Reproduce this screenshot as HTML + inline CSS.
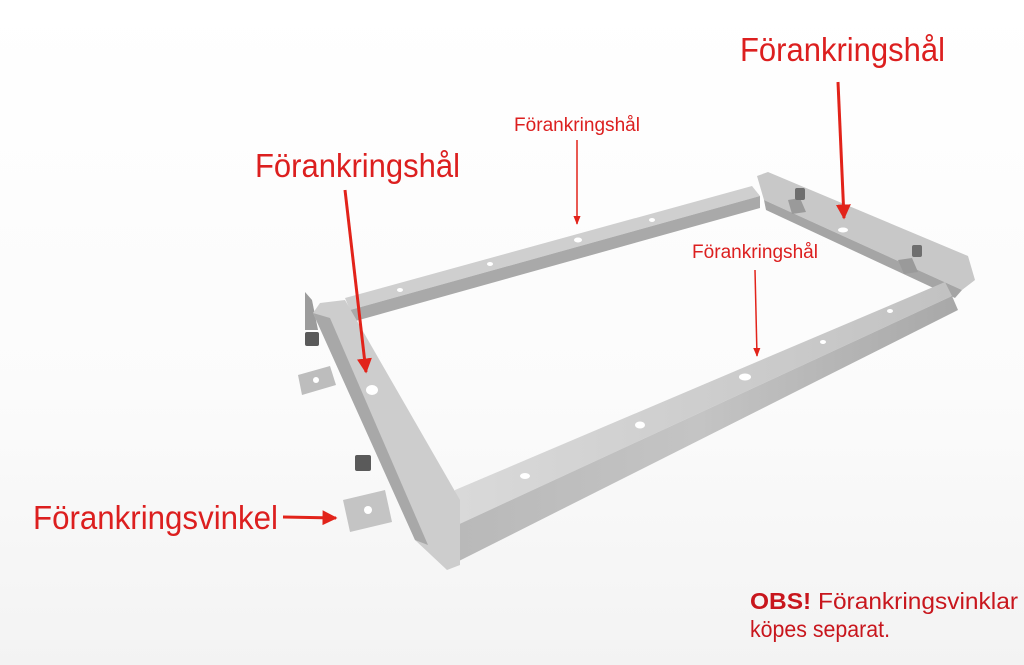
<!DOCTYPE html>
<html><head><meta charset="utf-8"><style>
html,body{margin:0;padding:0;background:#fff;}
svg{display:block;}
text{font-family:"Liberation Sans",Arial,sans-serif;}
</style></head><body>
<svg width="1024" height="665" viewBox="0 0 1024 665" xmlns="http://www.w3.org/2000/svg">
<defs>
<linearGradient id="bg" x1="0" y1="0" x2="0" y2="1">
<stop offset="0" stop-color="#ffffff"/><stop offset="0.6" stop-color="#fbfbfb"/><stop offset="1" stop-color="#f3f3f3"/>
</linearGradient>
<linearGradient id="fr" x1="0" y1="0" x2="1" y2="0">
<stop offset="0" stop-color="#b8b8b8"/><stop offset="0.5" stop-color="#c4c4c4"/><stop offset="1" stop-color="#a8a8a8"/>
</linearGradient>
<linearGradient id="tp" x1="0" y1="0" x2="1" y2="0">
<stop offset="0" stop-color="#dadada"/><stop offset="1" stop-color="#c2c2c2"/>
</linearGradient>
<marker id="ah" viewBox="0 0 10 10" refX="9" refY="5" markerWidth="5" markerHeight="5" orient="auto">
<path d="M0,0 L10,5 L0,10 z" fill="#e2231a"/></marker>
<marker id="ahs" viewBox="0 0 10 10" refX="9" refY="5" markerWidth="6" markerHeight="6" orient="auto">
<path d="M0,1 L10,5 L0,9 z" fill="#e2231a"/></marker>
</defs>
<rect width="1024" height="665" fill="url(#bg)"/>

<!-- back rail -->
<polygon points="345,298 752,186 760,196 350,310" fill="#cfcfcf"/>
<polygon points="350,310 760,196 760,208 352,322" fill="#a9a9a9"/>
<ellipse cx="578" cy="240" rx="4" ry="2.5" fill="#fff"/>
<ellipse cx="490" cy="264" rx="3" ry="2" fill="#fff"/>
<ellipse cx="652" cy="220" rx="3" ry="2" fill="#fff"/>
<ellipse cx="400" cy="290" rx="3" ry="2" fill="#fff"/>

<!-- right bracket rail -->
<polygon points="757,176 768,172 968,256 975,280 962,290 764,200" fill="#c8c8c8"/>
<polygon points="764,200 962,290 955,298 766,210" fill="#a5a5a5"/>
<polygon points="788,200 800,198 806,212 792,214" fill="#9a9a9a"/>
<polygon points="898,260 912,258 918,272 904,274" fill="#9a9a9a"/>
<rect x="795" y="188" width="10" height="12" rx="2" fill="#6e6e6e"/>
<rect x="912" y="245" width="10" height="12" rx="2" fill="#6e6e6e"/>
<ellipse cx="843" cy="230" rx="5" ry="2.5" fill="#fff"/>

<!-- front rail -->
<polygon points="455,490 945,282 952,296 440,533" fill="url(#tp)"/>
<polygon points="440,533 952,296 958,310 445,568" fill="url(#fr)"/>
<ellipse cx="525" cy="476" rx="5" ry="3" fill="#fff"/>
<ellipse cx="640" cy="425" rx="5" ry="3.5" fill="#fff"/>
<ellipse cx="745" cy="377" rx="6" ry="3.5" fill="#fff"/>
<ellipse cx="823" cy="342" rx="3" ry="2" fill="#fff"/>
<ellipse cx="890" cy="311" rx="3" ry="2" fill="#fff"/>

<!-- left rail -->
<polygon points="305,292 312,300 318,330 305,330" fill="#9c9c9c"/>
<polygon points="320,303 345,300 460,500 460,565 447,570 415,540 313,313" fill="#cdcdcd"/>
<polygon points="313,313 330,318 428,545 415,540" fill="#a8a8a8"/>
<polygon points="298,375 330,366 336,385 302,395" fill="#bdbdbd"/>
<circle cx="316" cy="380" r="3" fill="#fff"/>
<polygon points="343,500 385,490 392,522 350,532" fill="#c4c4c4"/>
<circle cx="368" cy="510" r="4" fill="#fff"/>
<rect x="305" y="332" width="14" height="14" rx="2" fill="#5a5a5a"/>
<rect x="355" y="455" width="16" height="16" rx="2" fill="#5a5a5a"/>
<ellipse cx="372" cy="390" rx="6" ry="5" fill="#fff"/>

<!-- labels and arrows -->
<g fill="#dc1f1f">
<text x="740" y="61" font-size="33" textLength="205" lengthAdjust="spacingAndGlyphs">Förankringshål</text>
<text x="255" y="177" font-size="33" textLength="205" lengthAdjust="spacingAndGlyphs">Förankringshål</text>
<text x="514" y="131" font-size="19" textLength="126" lengthAdjust="spacingAndGlyphs">Förankringshål</text>
<text x="692" y="258" font-size="19" textLength="126" lengthAdjust="spacingAndGlyphs">Förankringshål</text>
<text x="33" y="529" font-size="33" textLength="245" lengthAdjust="spacingAndGlyphs">Förankringsvinkel</text>
</g>
<g stroke="#e2231a" fill="none">
<line x1="838" y1="82" x2="844" y2="218" stroke-width="3" marker-end="url(#ah)"/>
<line x1="345" y1="190" x2="366" y2="372" stroke-width="3" marker-end="url(#ah)"/>
<line x1="577" y1="140" x2="577" y2="224" stroke-width="1.5" marker-end="url(#ahs)"/>
<line x1="755" y1="270" x2="757" y2="356" stroke-width="1.5" marker-end="url(#ahs)"/>
<line x1="283" y1="517" x2="336" y2="518" stroke-width="3" marker-end="url(#ah)"/>
</g>
<text x="750" y="609" font-size="23" fill="#c8161d" textLength="268" lengthAdjust="spacingAndGlyphs"><tspan font-weight="bold">OBS!</tspan> Förankringsvinklar</text>
<text x="750" y="637" font-size="23" fill="#c8161d" textLength="140" lengthAdjust="spacingAndGlyphs">köpes separat.</text>
</svg>
</body></html>
